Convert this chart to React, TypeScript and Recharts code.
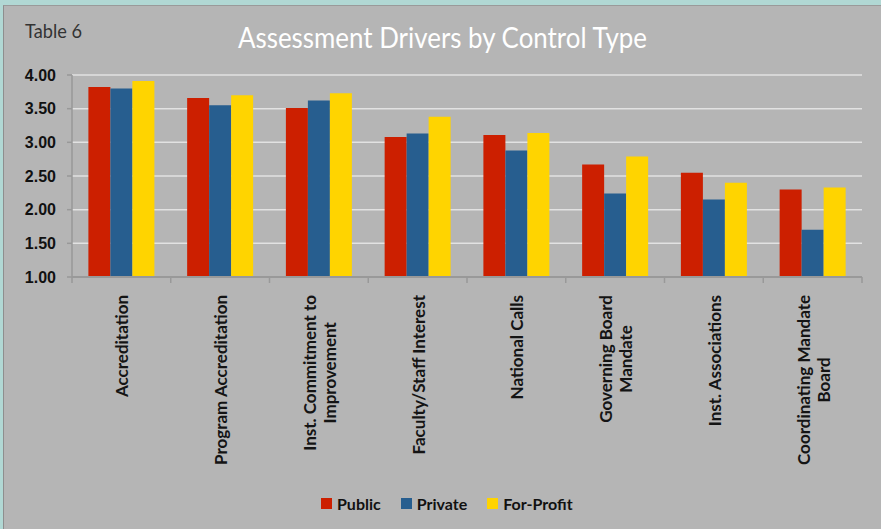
import { BarChart, Bar, XAxis, YAxis, CartesianGrid } from "recharts";

const categories = [
  "Accreditation",
  "Program Accreditation",
  "Inst. Commitment to Improvement",
  "Faculty/Staff Interest",
  "National Calls",
  "Governing Board Mandate",
  "Inst. Associations",
  "Coordinating Mandate Board",
];

// how the category names wrap under the axis
const tickLines = [
  ["Accreditation"],
  ["Program Accreditation"],
  ["Inst. Commitment to", "Improvement"],
  ["Faculty/Staff Interest"],
  ["National Calls"],
  ["Governing Board", "Mandate"],
  ["Inst. Associations"],
  ["Coordinating Mandate", "Board"],
];

const publicValues = [3.82, 3.66, 3.51, 3.08, 3.11, 2.67, 2.55, 2.3];
const privateValues = [3.8, 3.55, 3.62, 3.13, 2.88, 2.24, 2.15, 1.7];
const forProfitValues = [3.91, 3.7, 3.73, 3.38, 3.14, 2.79, 2.4, 2.33];
const yTicks = [1, 1.5, 2, 2.5, 3, 3.5, 4];

const SERIES = [
  { key: "public", name: "Public", color: "#cc1f00" },
  { key: "private", name: "Private", color: "#275e8f" },
  { key: "forProfit", name: "For-Profit", color: "#ffd400" },
];

const W = 881;
const H = 529;
const MARGIN = { top: 75, right: 19, bottom: 0, left: 0 };
const Y_AXIS_W = 72;
const X_AXIS_H = 252;
const AXIS_Y = H - MARGIN.bottom - X_AXIS_H;
const BAND = (W - MARGIN.left - MARGIN.right - Y_AXIS_W) / categories.length;

const TICK_FONT = "Lato, 'Open Sans', sans-serif";
const TICK_SIZE = 17;

const data = categories.map((c, i) => ({
  name: c,
  public: publicValues[i],
  private: privateValues[i],
  forProfit: forProfitValues[i],
}));

let ctx: CanvasRenderingContext2D | null = null;
function textWidth(s: string) {
  if (!ctx) ctx = document.createElement("canvas").getContext("2d");
  if (!ctx) return s.length * 8;
  ctx.font = `bold ${TICK_SIZE}px Lato`;
  return ctx.measureText(s).width;
}

function CategoryTick(props: any) {
  const { x, index } = props;
  const lines = tickLines[index] ?? [String(props.payload?.value)];
  const gap = 20;
  const top = AXIS_Y + 18;
  const baseX = x + 7 - ((lines.length - 1) * gap) / 2;
  const w = textWidth(lines[0]);
  const multi = lines.length > 1;
  return (
    <g>
      <line x1={x - BAND / 2} x2={x - BAND / 2} y1={AXIS_Y} y2={AXIS_Y + 6} stroke="#999" strokeWidth={1.5} />
      {index === categories.length - 1 && (
        <line x1={x + BAND / 2} x2={x + BAND / 2} y1={AXIS_Y} y2={AXIS_Y + 6} stroke="#999" strokeWidth={1.5} />
      )}
      <g transform={`translate(${baseX},${top}) rotate(-90)`}>
        {lines.map((l, i) => (
          <text
            key={i}
            x={multi ? -w / 2 : 0}
            y={i * gap}
            textAnchor={multi ? "middle" : "end"}
            fontFamily={TICK_FONT}
            fontWeight="bold"
            fontSize={TICK_SIZE}
            fill="#141414"
          >
            {l}
          </text>
        ))}
      </g>
    </g>
  );
}

export default function App() {
  return (
    <div style={{ position: "absolute", left: 0, top: 0, width: W, height: H, background: "#b1d8d4", overflow: "hidden" }}>
      <div
        style={{
          position: "absolute",
          left: 3,
          top: 5,
          right: -2,
          bottom: -2,
          background: "#b5b5b5",
          borderLeft: "1px solid #8e8e8e",
          borderTop: "1px solid #9a9a9a",
        }}
      />
      <div style={{ position: "absolute", left: 0, top: 0 }}>
        <BarChart width={W} height={H} data={data} margin={MARGIN} barCategoryGap="16.6%" barGap={0}>
          <CartesianGrid horizontal vertical={false} stroke="#e2e2e2" strokeWidth={1.5} />
          <XAxis
            dataKey="name"
            height={X_AXIS_H}
            interval={0}
            tickLine={false}
            axisLine={{ stroke: "#999", strokeWidth: 2 }}
            tick={<CategoryTick />}
          />
          <YAxis
            width={Y_AXIS_W}
            domain={[1, 4]}
            ticks={yTicks}
            interval={0}
            tickFormatter={(v: number) => v.toFixed(2)}
            tickSize={5}
            tickMargin={11}
            tick={{ fontFamily: "'Liberation Sans', Arial, sans-serif", fontWeight: "bold", fontSize: 16, fill: "#111" }}
            axisLine={{ stroke: "#999", strokeWidth: 1.5 }}
            tickLine={{ stroke: "#999", strokeWidth: 1.5 }}
          />
          {SERIES.map((s) => (
            <Bar key={s.key} dataKey={s.key} name={s.name} fill={s.color} isAnimationActive={false} />
          ))}
        </BarChart>
      </div>
      <svg width={W} height={H} style={{ position: "absolute", left: 0, top: 0, pointerEvents: "none" }}>
        <text x={25} y={38} fontFamily="Lato, sans-serif" fontSize={19} fill="#333" textLength={57} lengthAdjust="spacingAndGlyphs">
          Table 6
        </text>
        <text
          x={238}
          y={48}
          fontFamily="Lato, sans-serif"
          fontWeight={400}
          fontSize={29}
          fill="#fff"
          textLength={409}
          lengthAdjust="spacingAndGlyphs"
        >
          Assessment Drivers by Control Type
        </text>
      </svg>
      <div
        style={{
          position: "absolute",
          left: 321,
          top: 494,
          display: "flex",
          alignItems: "center",
          fontFamily: TICK_FONT,
          fontWeight: "bold",
          fontSize: 16,
          color: "#111",
          whiteSpace: "nowrap",
        }}
      >
        {SERIES.map((s, i) => (
          <div key={s.key} style={{ display: "flex", alignItems: "center", marginRight: i < SERIES.length - 1 ? 20 : 0 }}>
            <span style={{ display: "inline-block", width: 11, height: 11, background: s.color, marginRight: 5 }} />
            <span>{s.name}</span>
          </div>
        ))}
      </div>
    </div>
  );
}
